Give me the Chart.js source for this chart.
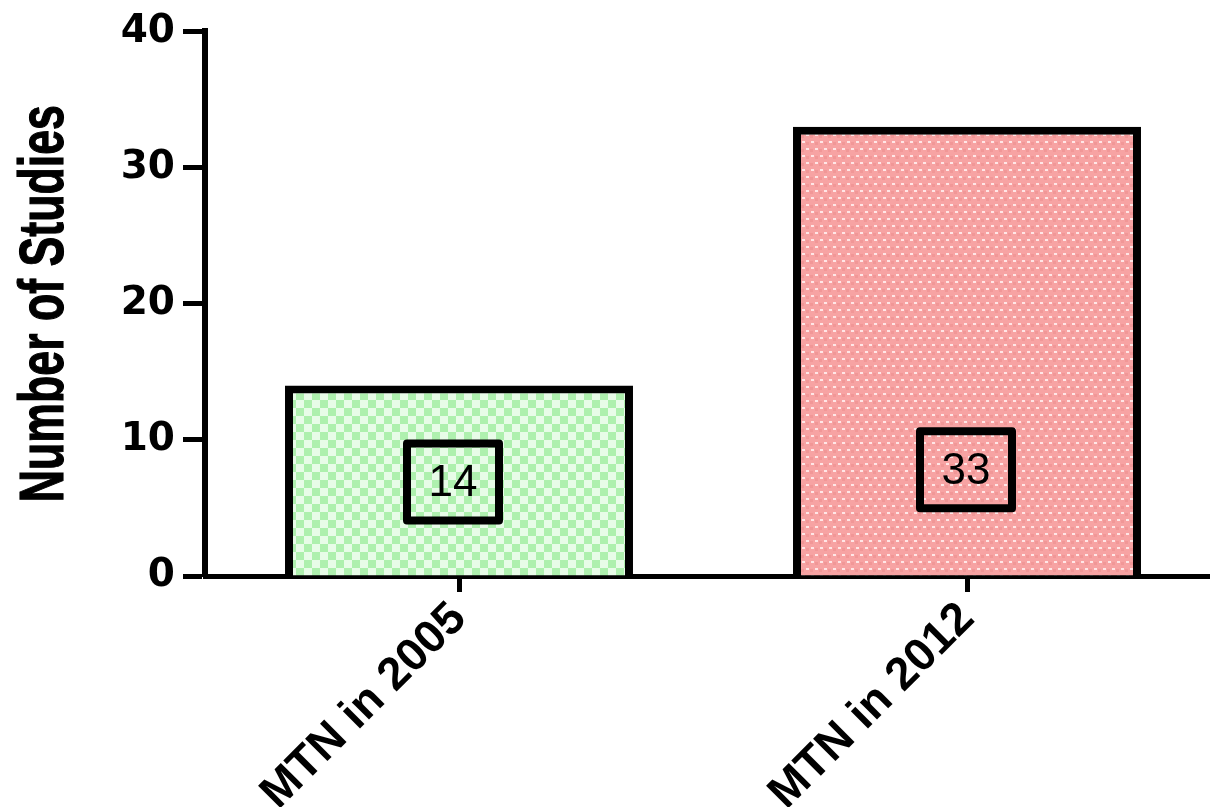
<!DOCTYPE html>
<html>
<head>
<meta charset="utf-8">
<script src="https://cdn.jsdelivr.net/npm/chart.js@4/dist/chart.umd.min.js"></script>
<style>
  html, body { margin: 0; padding: 0; background: #fff; overflow: hidden; }
  #wrap { width: 1210px; height: 807px; }
</style>
</head>
<body>
<div id="wrap"><canvas id="c" width="1210" height="807"></canvas></div>
<script>
/* ── DATA ── */
const CATEGORIES = ['MTN in 2005', 'MTN in 2012'];
const STUDIES = [14, 33];
const Y_TICKS = [0, 10, 20, 30, 40];
const Y_TITLE = 'Number of Studies';

/* ── PATTERNS ── */
function checkerPattern(ctx) {
  const t = document.createElement('canvas');
  t.width = 16; t.height = 16;
  const g = t.getContext('2d');
  g.fillStyle = '#e8fce8';
  g.fillRect(0, 0, 16, 16);
  g.fillStyle = '#aef0ae';
  g.fillRect(0, 0, 8, 8);
  g.fillRect(8, 8, 8, 8);
  return ctx.createPattern(t, 'repeat');
}

function dotPattern(ctx) {
  // pink ground, small white specks on an offset grid
  const t = document.createElement('canvas');
  t.width = 9; t.height = 14;
  const g = t.getContext('2d');
  g.fillStyle = '#f7a3a3';
  g.fillRect(0, 0, 9, 14);
  g.fillStyle = '#f19797';
  g.fillRect(5, 2, 3, 3);
  g.fillRect(0, 9, 3, 3);
  g.fillStyle = '#ffe6e6';
  g.fillRect(1, 1, 3, 2);
  g.fillRect(5, 8, 3, 2);
  return ctx.createPattern(t, 'repeat');
}

/* ── STRETCH X CATEGORY RANGE PAST THE CANVAS EDGE ── */
const widenX = {
  id: 'widenX',
  afterLayout(chart) {
    const x = chart.scales.x;
    x.right = 1221;
    x.width = x.right - x.left;
    x.configure();
  }
};

/* ── VALUE BOXES ── */
const valueBoxes = {
  id: 'valueBoxes',
  afterDatasetsDraw(chart) {
    const ctx = chart.ctx;
    const y = chart.scales.y;
    const meta = chart.getDatasetMeta(0);
    const centers = [6.9, 7.8];
    const shift = [-6, -1];
    meta.data.forEach((bar, i) => {
      const cy = y.getPixelForValue(centers[i]);
      const cx = bar.x + shift[i];
      const w = 92, h = 77;
      ctx.save();
      ctx.lineWidth = 8;
      ctx.strokeStyle = '#000';
      ctx.lineJoin = 'round';
      ctx.strokeRect(cx - w / 2, cy - h / 2, w, h);
      ctx.fillStyle = '#000';
      ctx.font = '44px "Liberation Sans", Arial, sans-serif';
      ctx.textAlign = 'center';
      ctx.textBaseline = 'middle';
      ctx.fillText(String(STUDIES[i]), cx, cy + 2);
      ctx.restore();
    });
  }
};

/* ── Y TITLE (narrow, tall lettering) ── */
const yTitle = {
  id: 'yTitle',
  afterDraw(chart) {
    const ctx = chart.ctx;
    const area = chart.chartArea;
    ctx.save();
    ctx.font = 'bold 44px "Liberation Sans", Arial, sans-serif';
    const w = ctx.measureText(Y_TITLE).width;
    ctx.translate(63, (area.top + area.bottom) / 2);
    ctx.rotate(-Math.PI / 2);
    ctx.scale(397 / w, 1.45);
    ctx.fillStyle = '#000';
    ctx.strokeStyle = '#000';
    ctx.lineWidth = 0.8;
    ctx.textAlign = 'center';
    ctx.textBaseline = 'alphabetic';
    ctx.fillText(Y_TITLE, 0, 0);
    ctx.strokeText(Y_TITLE, 0, 0);
    ctx.restore();
  }
};

/* ── CHART ── */
const ctx = document.getElementById('c').getContext('2d');

new Chart(ctx, {
  type: 'bar',
  data: {
    labels: CATEGORIES,
    datasets: [{
      data: STUDIES,
      backgroundColor: [checkerPattern(ctx), dotPattern(ctx)],
      borderColor: '#000',
      borderWidth: 8,
      borderSkipped: 'bottom',
      barPercentage: 0.685,
      categoryPercentage: 1.0
    }]
  },
  options: {
    responsive: false,
    animation: false,
    devicePixelRatio: 1,
    layout: { padding: { top: 22, right: 10, left: 0, bottom: 0 } },
    plugins: { legend: { display: false }, tooltip: { enabled: false } },
    scales: {
      x: {
        afterFit(s) { s.height = 231; },
        grid: { drawOnChartArea: false, drawTicks: true, tickLength: 16, tickWidth: 5, tickColor: '#000', offset: false },
        border: { display: true, color: '#000', width: 5 },
        ticks: {
          color: '#000',
          maxRotation: 45, minRotation: 45,
          padding: 0,
          font: { family: '"Liberation Sans", Arial, sans-serif', size: 46, weight: 'bold' }
        }
      },
      y: {
        min: 0, max: 40,
        afterFit(s) { s.width = 205; },
        afterBuildTicks(axis) { axis.ticks = Y_TICKS.map(v => ({ value: v })); },
        grid: { drawOnChartArea: false, tickLength: 22, tickWidth: 5, tickColor: '#000' },
        border: { display: true, color: '#000', width: 6 },
        ticks: {
          color: '#000',
          padding: 8,
          font: { family: '"DejaVu Sans", sans-serif', size: 39, weight: 'bold' }
        }
      }
    }
  },
  plugins: [widenX, valueBoxes, yTitle]
});
</script>
</body>
</html>
